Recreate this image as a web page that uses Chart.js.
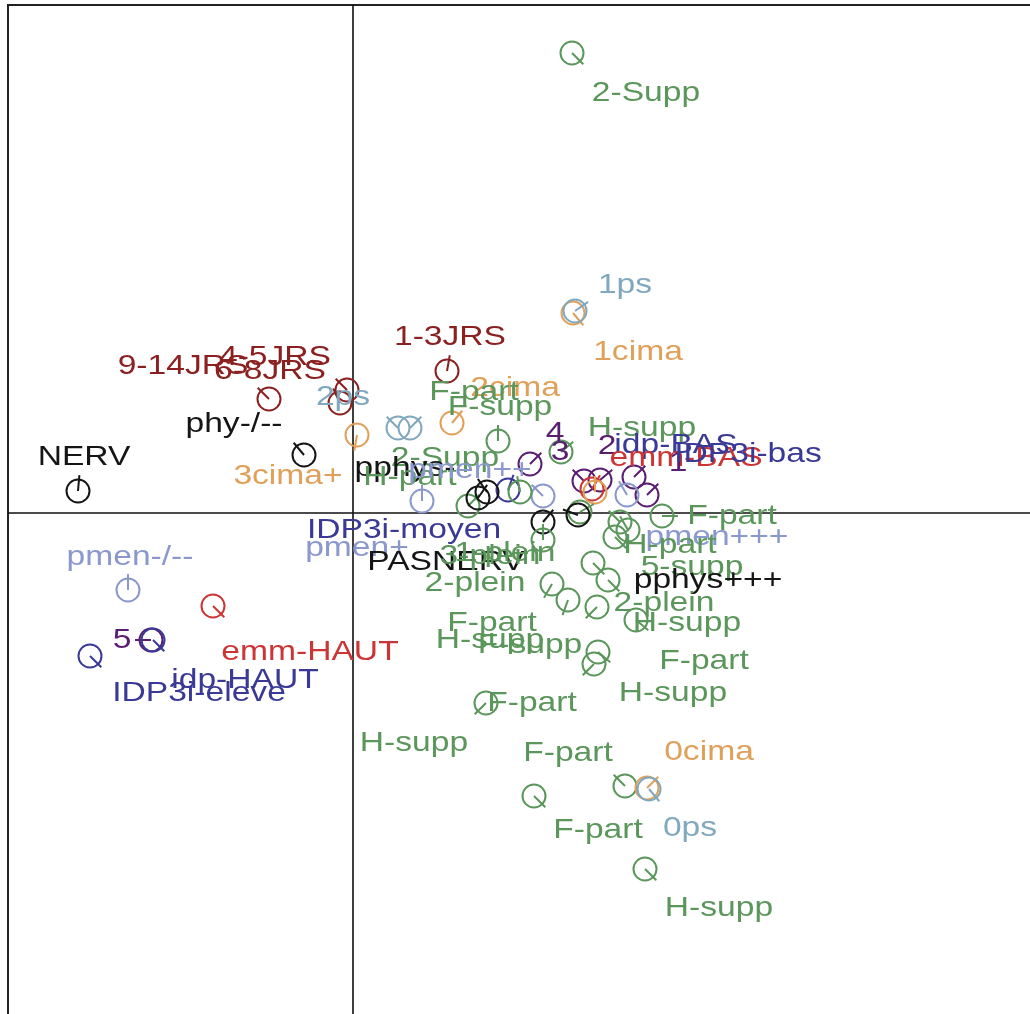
<!DOCTYPE html>
<html>
<head>
<title>Factor map</title>
<script src="https://cdn.jsdelivr.net/npm/chart.js"></script>
<style>
  html, body { margin: 0; padding: 0; overflow: hidden; background: #fff; }
  canvas { display: block; }
</style>
</head>
<body>
<canvas id="mapChart" width="1060" height="1040"></canvas>
<script>
// colour groups: 0 black, 1 dark red, 2 orange, 3 grey blue, 4 green, 5 purple, 6 navy, 7 lavender, 8 red
const groupColors = ['#151515', '#8B2020', '#E0A05A', '#80A8BE', '#5B965B', '#5A1E70', '#3A3A96', '#8A98CE', '#CC3535'];

// category points (coordinates on the two factor axes)
const markerX = [2.19, 2.20, 2.22, 0.94, -0.84, -0.06, -0.13, -2.75, -0.49, 0.04, 0.45, 0.57, 0.99, 1.45, 2.08,
  1.77, 2.31, 2.47, 2.39, 2.42, 2.81, 2.94, 2.74, 1.90, 1.55, 1.67, 0.69, 1.15, 1.25, 1.34, 1.90, 2.27, 2.25,
  2.67, 3.09, 2.62, 2.75, 1.90, 2.40, 2.55, 1.99, 2.15, 2.44, 2.83, 2.45, 2.41, 1.33, 2.72, 2.94, 2.96, 1.81,
  2.92, -1.40, -2.25, -2.02, -2.00, -2.63];
const markerY = [4.60, 2.00, 2.02, 1.42, 1.14, 1.23, 1.10, 0.22, 0.58, 0.78, 0.85, 0.85, 0.90, 0.72, 0.61,
  0.49, 0.32, 0.33, 0.24, 0.21, 0.36, 0.18, 0.18, 0.17, 0.23, 0.21, 0.12, 0.07, 0.15, 0.21, -0.09, 0.01, -0.02,
  -0.09, -0.03, -0.24, -0.17, -0.27, -0.50, -0.67, -0.71, -0.87, -0.94, -1.07, -1.39, -1.51, -1.90, -2.73, -2.75, -2.76, -2.83,
  -3.56, -0.93, -0.77, -1.27, -1.27, -1.43];
const markerGroup = [4, 2, 3, 1, 1, 1, 1, 0, 0, 2, 3, 3, 2, 4, 4,
  5, 5, 5, 8, 2, 5, 5, 7, 7, 6, 4, 7, 4, 0, 0, 0, 4, 0,
  4, 4, 4, 4, 4, 4, 4, 4, 4, 4, 4, 4, 4, 4, 4, 2, 3, 4,
  4, 8, 7, 5, 6, 6];
const markerAngle = [-45, -50, 35, 80, 135, 135, 115, 85, 130, -100, 135, 45, 50, 90, 40,
  45, 135, 40, 60, 90, 45, 45, 120, 135, 70, 100, 90, 45, 55, 125, 50, 30, 160,
  135, 0, -45, 120, 90, -45, -45, -120, -110, -135, -40, -40, -135, -135, 135, 45, -50, -45,
  -45, -45, 90, 180, -45, -45];

// category labels
const labelText = ['2-Supp', '1ps', '1cima', '1-3JRS', '9-14JRS', '4-5JRS', '6-8JRS', 'phy-/--', 'NERV', '2ps',
  '3cima+', '2cima', 'F-part', 'F-supp', 'H-supp', '4', '3', '2', 'idp-BAS', 'emm-BAS', '1', 'IDP3i-bas',
  '2-Supp', 'pphys-', 'H-part', 'pmen++', 'F-part', 'IDP3i-moyen', 'pmen+', 'PASNERV', '3-plein', '1-plein',
  '2-plein', 'pmen+++', 'H-part', '5-supp', 'pphys+++', '2-plein', 'H-supp', 'F-part', 'H-supp', 'F-supp',
  'F-part', 'H-supp', 'F-part', 'H-supp', 'F-part', '0cima', 'F-part', '0ps', 'H-supp', 'pmen-/--', '5',
  'emm-HAUT', 'idp-HAUT', 'IDP3i-eleve'];
const labelX = [2.93, 2.72, 2.85, 0.97, -1.70, -0.78, -0.83, -1.19, -2.69, -0.10,
  -0.65, 1.62, 1.21, 1.47, 2.89, 2.02, 2.07, 2.54, 3.23, 3.33, 3.25, 3.95,
  0.92, 0.52, 0.57, 1.17, 3.79, 0.51, 0.04, 0.93, 1.37, 1.52,
  1.22, 3.64, 3.17, 3.39, 3.55, 3.11, 3.34, 1.39, 1.37, 1.77,
  3.51, 3.20, 1.79, 0.61, 2.15, 3.56, 2.45, 3.37, 3.66, -2.23, -2.31,
  -0.43, -1.08, -1.54];
const labelY = [4.20, 2.28, 1.61, 1.76, 1.47, 1.56, 1.42, 0.89, 0.56, 1.16,
  0.37, 1.25, 1.21, 1.06, 0.85, 0.80, 0.61, 0.67, 0.68, 0.55, 0.50, 0.59,
  0.55, 0.45, 0.36, 0.43, -0.03, -0.17, -0.35, -0.49, -0.43, -0.40,
  -0.70, -0.24, -0.32, -0.54, -0.67, -0.90, -1.10, -1.10, -1.27, -1.32,
  -1.48, -1.80, -1.90, -2.30, -2.40, -2.39, -3.17, -3.15, -3.95, -0.44, -1.27,
  -1.39, -1.67, -1.80];
const labelGroup = [4, 3, 2, 1, 1, 1, 1, 0, 0, 3,
  2, 2, 4, 4, 4, 5, 5, 5, 6, 8, 5, 6,
  4, 0, 4, 7, 4, 6, 7, 0, 4, 4,
  4, 7, 4, 4, 0, 4, 4, 4, 4, 4,
  4, 4, 4, 4, 4, 2, 4, 3, 4, 7, 5,
  8, 6, 6];

// circle with a direction tick, cached by colour and angle
const glyphCache = {};
function glyph(color, angle) {
  const key = color + angle;
  if (glyphCache[key]) return glyphCache[key];
  const c = document.createElement('canvas');
  c.width = 40; c.height = 40;
  const g = c.getContext('2d');
  g.strokeStyle = color;
  g.lineWidth = 2;
  g.beginPath();
  g.arc(20, 20, 11.5, 0, Math.PI * 2);
  g.stroke();
  const r = angle * Math.PI / 180;
  g.beginPath();
  g.moveTo(20, 20);
  g.lineTo(20 + 16 * Math.cos(r), 20 - 16 * Math.sin(r));
  g.stroke();
  glyphCache[key] = c;
  return c;
}

const framePlugin = {
  id: 'frame',
  beforeDatasetsDraw(chart) {
    const { ctx, chartArea: a, scales: { x, y } } = chart;
    ctx.save();
    ctx.strokeStyle = '#222';
    ctx.lineWidth = 2;
    ctx.beginPath();
    ctx.moveTo(a.left, a.bottom);
    ctx.lineTo(a.left, a.top);
    ctx.lineTo(a.right, a.top);
    ctx.stroke();
    ctx.strokeStyle = '#111';
    ctx.lineWidth = 1.6;
    const x0 = x.getPixelForValue(0), y0 = y.getPixelForValue(0);
    ctx.beginPath();
    ctx.moveTo(x0, a.top); ctx.lineTo(x0, a.bottom);
    ctx.moveTo(a.left, y0); ctx.lineTo(a.right, y0);
    ctx.stroke();
    ctx.restore();
  }
};

const labelPlugin = {
  id: 'labels',
  afterDatasetsDraw(chart) {
    const { ctx, scales: { x, y } } = chart;
    ctx.save();
    ctx.font = '28px "Liberation Sans", Arial, sans-serif';
    ctx.textAlign = 'center';
    ctx.textBaseline = 'middle';
    labelText.forEach((t, i) => {
      ctx.save();
      ctx.translate(x.getPixelForValue(labelX[i]), y.getPixelForValue(labelY[i]));
      ctx.scale(1.2, 1);
      ctx.fillStyle = groupColors[labelGroup[i]];
      ctx.fillText(t, 0, 0);
      ctx.restore();
    });
    ctx.restore();
  }
};

new Chart(document.getElementById('mapChart'), {
  type: 'scatter',
  data: {
    datasets: [{
      data: markerX.map((v, i) => ({ x: v, y: markerY[i] })),
      pointStyle: ctx => glyph(groupColors[markerGroup[ctx.dataIndex]], markerAngle[ctx.dataIndex]),
      pointRadius: 20
    }]
  },
  options: {
    responsive: false,
    animation: false,
    layout: { autoPadding: false, padding: { left: 8, top: 5, right: 0, bottom: 0 } },
    scales: {
      x: { type: 'linear', min: -3.45, max: 7.07, display: false },
      y: { type: 'linear', min: -5.27, max: 5.08, display: false }
    },
    plugins: { legend: { display: false }, tooltip: { enabled: false } }
  },
  plugins: [framePlugin, labelPlugin]
});
</script>
</body>
</html>
